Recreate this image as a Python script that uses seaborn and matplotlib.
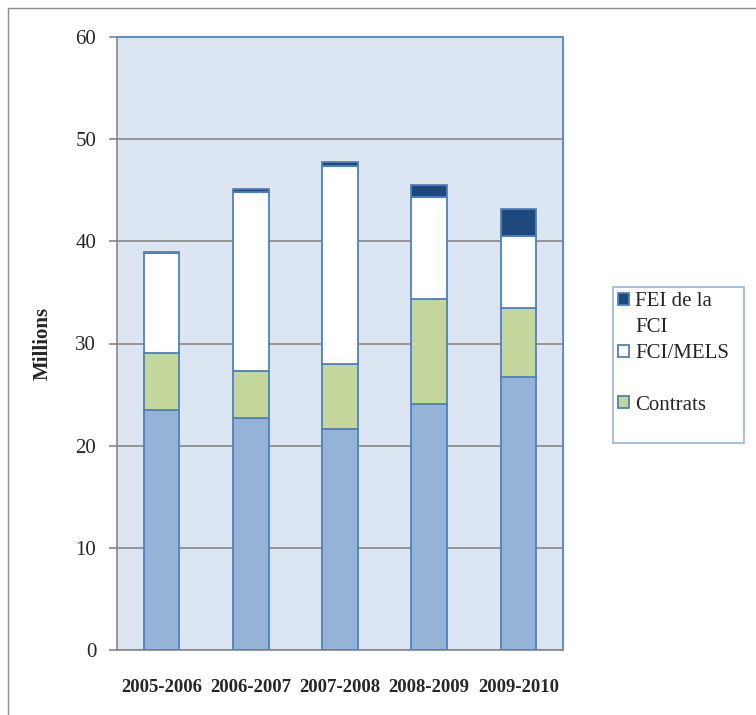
import matplotlib
matplotlib.use("Agg")
import matplotlib.pyplot as plt
import matplotlib.patches as mpatches
import seaborn as sns
import numpy as np
import pandas as pd

# ---- data (millions) ----
years = ["2005-2006", "2006-2007", "2007-2008", "2008-2009", "2009-2010"]
base = [23.5, 22.7, 21.65, 24.1, 26.75]          # bottom (light blue) series
contrats = [5.6, 4.6, 6.3, 10.25, 6.7]
fci_mels = [9.75, 17.55, 19.45, 10.0, 7.1]
fei_fci = [0.15, 0.25, 0.35, 1.2, 2.6]
yticks = [0, 10, 20, 30, 40, 50, 60]

series_names = ["Base", "Contrats", "FCI/MELS", "FEI de la FCI"]
series_vals = [base, contrats, fci_mels, fei_fci]
colors = ["#95B3D7", "#C3D69B", "#FFFFFF", "#1F497D"]
edge = "#4F81BD"

sns.set_style("white")
plt.rcParams["font.family"] = ["Liberation Serif", "DejaVu Serif"]

fig = plt.figure(figsize=(7.56, 7.15), dpi=100)
ax = fig.add_axes([117/756, 1-650/715, (563-117)/756, (650-37)/715])
ax.set_facecolor("#DCE6F2")

df = pd.DataFrame({"year": years})
cum = np.zeros(len(years))
handles = {}
for name, vals, col in zip(series_names, series_vals, colors):
    df[name] = vals
    sns.barplot(data=df, x="year", y=name, bottom=cum, color=col, saturation=1,
                width=0.4, edgecolor=edge, linewidth=1.3, ax=ax, zorder=3)
    handles[name] = mpatches.Patch(facecolor=col, edgecolor=edge, linewidth=1.3)
    cum = cum + np.array(vals)

ax.set_xlim(-0.5, len(years) - 0.5)
ax.set_ylim(0, 60)
ax.set_yticks(yticks)
ax.yaxis.grid(True, color="#878787", linewidth=1.2, zorder=1)
ax.set_axisbelow(True)
ax.set_xlabel("")
ax.set_ylabel("Millions", fontsize=15, fontweight="bold", labelpad=16)

# x tick labels at centers, tick marks at category boundaries
ax.set_xticks(range(len(years)))
ax.set_xticklabels(years, fontsize=13.5, fontweight="bold")
ax.set_xticks(np.arange(-0.5, len(years), 1.0), minor=True)
ax.tick_params(axis="x", which="major", length=0, pad=21)
ax.tick_params(axis="x", which="minor", length=6, width=1.2, color="#878787", direction="out")
ax.tick_params(axis="y", length=6, width=1.2, color="#878787", labelsize=15, pad=9, left=True)

for s in ["left", "bottom"]:
    ax.spines[s].set_color("#878787")
    ax.spines[s].set_linewidth(1.2)
for s in ["top", "right"]:
    ax.spines[s].set_color("#5B8AC6")
    ax.spines[s].set_linewidth(1.4)
    ax.spines[s].set_visible(True)

# legend (three named series, with wrapped first label)
empty = mpatches.Patch(facecolor="none", edgecolor="none")
leg_handles = [handles["FEI de la FCI"], empty, handles["FCI/MELS"], empty, handles["Contrats"], empty]
leg_labels = ["FEI de la", "FCI", "FCI/MELS", "", "Contrats", ""]
leg = fig.legend(leg_handles, leg_labels, loc="upper left",
                 bbox_to_anchor=(613/756, 1-437/715, 131/756, 150/715), mode="expand",
                 fontsize=15, frameon=True, fancybox=False, borderpad=0.25,
                 handlelength=0.5, handleheight=0.5, handletextpad=0.3,
                 labelspacing=0.33, borderaxespad=0)
leg.get_texts()[-1].set_fontsize(9)
leg.get_frame().set_edgecolor("#7EA2D3")
leg.get_frame().set_linewidth(1.2)

# outer chart border
fig.patches.append(mpatches.Rectangle((8/756, -0.02), 1.0, 1-8/715+0.02, transform=fig.transFigure,
                                      fill=False, edgecolor="#8C8C8C", linewidth=1.0))

fig.savefig("out.png", dpi=100)
